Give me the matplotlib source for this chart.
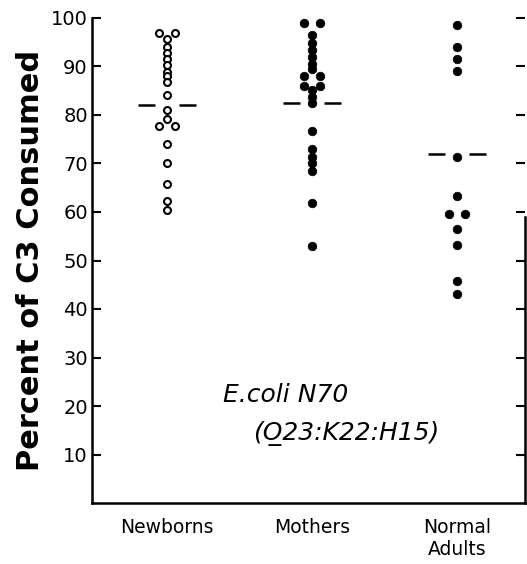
import matplotlib
matplotlib.use('Agg')
import matplotlib.pyplot as plt
import numpy as np

groups = ['Newborns', 'Mothers', 'Normal\nAdults']
newborns = [97, 97, 95.6, 94.1, 92.7, 91.5, 90.3, 88.9, 88.0, 86.9, 84.1,
            81.0, 79.2, 77.7, 77.7, 74.0, 70.2, 65.8, 62.3, 60.4]
mothers = [99, 99, 96.5, 94.8, 93.4, 92.0, 90.6, 89.4, 88, 88, 86, 86,
           85.2, 83.8, 82.4, 76.6, 72.9, 71.4, 70.0, 68.5, 61.8, 52.9]
adults = [98.6, 94.1, 91.5, 89.1, 71.4, 63.3, 59.5, 59.5, 56.4, 53.1, 45.8, 43.0]
means = [82, 82.5, 72]
yticks = [10, 20, 30, 40, 50, 60, 70, 80, 90, 100]


def spread(vals, step=0.11):
    vals = np.asarray(vals, float)
    off = np.zeros_like(vals)
    for v in np.unique(vals):
        idx = np.where(vals == v)[0]
        k = len(idx)
        for j, i in enumerate(idx):
            off[i] = (j - (k - 1) / 2) * step
    return off


fig = plt.figure(figsize=(5.27, 5.64), dpi=100)
ax = fig.add_axes([92 / 527, 1 - 503 / 564, (525 - 92) / 527, (503 - 18) / 564])

series = [newborns, mothers, adults]
for i, vals in enumerate(series):
    x = i + 1 + spread(vals)
    if i == 0:
        ax.plot(x, vals, 'o', ms=5.0, mfc='white', mec='black', mew=1.5,
                linestyle='none', zorder=3)
    else:
        ax.plot(x, vals, 'o', ms=6.2, mfc='black', mec='black', mew=0.5,
                linestyle='none', zorder=3)
    m = means[i]
    ax.plot([i + 1 - 0.2, i + 1 - 0.08], [m, m], color='black', lw=1.8,
            solid_capstyle='butt')
    ax.plot([i + 1 + 0.08, i + 1 + 0.2], [m, m], color='black', lw=1.8,
            solid_capstyle='butt')

ax.set_xlim(0.483, 3.469)
ax.set_ylim(0, 100)

ax.spines['top'].set_visible(False)
for s in ['left', 'bottom', 'right']:
    ax.spines[s].set_linewidth(1.8)
ax.spines['right'].set_bounds(0, 59)

ax.set_yticks(yticks)
ax.set_yticklabels([str(t) for t in yticks], fontsize=14)
ax.tick_params(axis='y', direction='in', length=6.5, width=1.5,
               right=True, left=True, labelright=False, pad=3)
ax.set_xticks([1, 2, 3])
ax.set_xticklabels(groups, fontsize=13.5, linespacing=1.2)
ax.tick_params(axis='x', length=0, pad=11)

ax.set_ylabel('Percent of C3 Consumed', fontsize=22, fontweight='bold',
              labelpad=4)

ax.text(1.386, 20.9, 'E.coli N70', fontsize=18, style='italic',
        ha='left', va='baseline')
ax.text(1.593, 13.0, '(O\u033223:K22:H15)', fontsize=18, style='italic',
        ha='left', va='baseline')

fig.savefig('out.png', dpi=100)
